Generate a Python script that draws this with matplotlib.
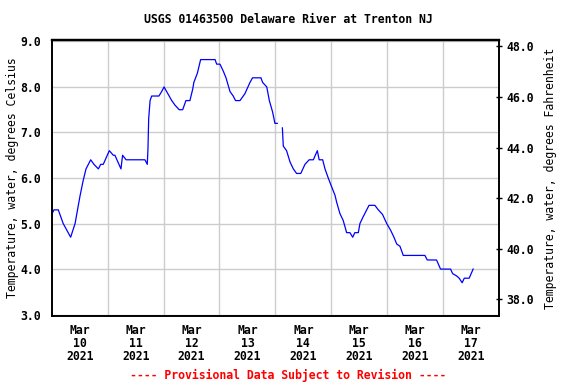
import numpy as np
import pandas as pd
import matplotlib
matplotlib.use("Agg")
import matplotlib.pyplot as plt

# hours since 2021-03-10 00:00 and water temperature (deg C)
hours = [0, 0.9, 2.8, 4.9, 8.1, 10.0, 12.1, 13.5, 14.7, 16.7, 18.1, 20.0, 21.0, 22.1,
         24.7, 26.4, 27.1, 29.7, 30.4, 31.9, 40.0, 41.0, 41.3, 41.6, 42.2, 42.9, 46.0,
         47.2, 48.2, 49.3, 51.5, 52.9, 54.7, 56.2, 57.6, 59.3, 60.5, 61.0, 62.5, 63.9,
         70.1, 70.8, 72.2, 73.6, 74.8, 76.5, 77.9, 78.9, 80.8, 82.9, 85.1, 86.2, 89.8,
         90.5, 92.3, 93.4, 94.8, 95.8, 96.8, 97.9, 99.0, 99.4, 100.8, 102.3, 103.7,
         105.1, 106.9, 108.7, 110.5, 112.3, 114.0, 114.8, 116.3, 117.3, 118.7, 120.2,
         121.6, 122.3, 123.7, 125.1, 126.6, 128.0, 129.2, 130.1, 131.6, 132.3, 133.7,
         135.2, 136.2, 138.7, 140.2, 142.0, 143.8, 145.5, 146.9, 148.1, 149.5, 150.9,
         160.2, 161.2, 165.2, 166.9, 171.2, 172.1, 173.8, 174.9, 176.2, 177.1, 179.2,
         180.9]
temp_c = [5.2, 5.3, 5.3, 5.0, 4.7, 5.0, 5.6, 5.95, 6.2, 6.4, 6.3, 6.2, 6.3, 6.3,
          6.6, 6.5, 6.5, 6.2, 6.5, 6.4, 6.4, 6.3, 6.65, 7.3, 7.7, 7.8, 7.8,
          7.9, 8.0, 7.9, 7.7, 7.6, 7.5, 7.5, 7.7, 7.7, 7.95, 8.1, 8.3, 8.6,
          8.6, 8.5, 8.5, 8.35, 8.2, 7.9, 7.8, 7.7, 7.7, 7.85, 8.1, 8.2, 8.2,
          8.1, 8.0, 7.7, 7.45, 7.2, 7.2, np.nan, 7.1, 6.7, 6.6, 6.35, 6.2,
          6.1, 6.1, 6.3, 6.4, 6.4, 6.6, 6.4, 6.4, 6.2, 6.0, 5.8,
          5.62, 5.47, 5.22, 5.07, 4.8, 4.8, 4.7, 4.8, 4.8, 5.0, 5.15,
          5.3, 5.4, 5.4, 5.3, 5.2, 5.0, 4.85, 4.7, 4.55, 4.5, 4.3,
          4.3, 4.2, 4.2, 4.0, 4.0, 3.9, 3.85, 3.8, 3.7, 3.8, 3.8,
          4.0]

start = pd.Timestamp("2021-03-10")
end = pd.Timestamp("2021-03-18")
times = start + pd.to_timedelta(hours, unit="h")

c_ticks = [3.0, 4.0, 5.0, 6.0, 7.0, 8.0, 9.0]
f_ticks = [38.0, 40.0, 42.0, 44.0, 46.0, 48.0]

title = "USGS 01463500 Delaware River at Trenton NJ"
left_label = "Temperature, water, degrees Celsius"
right_label = "Temperature, water, degrees Fahrenheit"
footer = "---- Provisional Data Subject to Revision ----"

plt.rcParams['font.family'] = 'DejaVu Sans Mono'
plt.rcParams['font.weight'] = 'bold'
plt.rcParams['font.size'] = 8.3

fig = plt.figure(figsize=(5.76, 3.84), dpi=100)
ax = fig.add_axes([0.0899, 0.1771, 0.7764, 0.7187])

ax.plot(times, temp_c, color='#0000ff', lw=0.9)

ax.set_xlim(start, end)
ax.set_ylim(2.97, 9.03)
ax.set_yticks(c_ticks)
ax.yaxis.set_major_formatter(matplotlib.ticker.FormatStrFormatter('%.1f'))
ax.tick_params(axis='y', length=0, pad=8)

days = pd.date_range("2021-03-10", "2021-03-17")
ax.set_xticks(days + pd.Timedelta(hours=12))
ax.set_xticklabels([d.strftime("Mar\n%d\n%Y") for d in days], linespacing=0.98)
ax.set_xticks(pd.date_range("2021-03-11", "2021-03-17"), minor=True)
ax.tick_params(axis='x', which='both', length=0, pad=6)

ax.grid(True, axis='y', color='#cccccc', lw=1)
ax.grid(True, axis='x', which='minor', color='#cccccc', lw=1)
ax.set_axisbelow(True)
for s in ax.spines.values():
    s.set_linewidth(1.2)
ax.spines['top'].set_linewidth(1.6)

ax.set_ylabel(left_label, labelpad=1)

ax2 = ax.twinx()
lo, hi = ax.get_ylim()
ax2.set_ylim(lo * 1.8 + 32, hi * 1.8 + 32)
ax2.set_yticks(f_ticks)
ax2.yaxis.set_major_formatter(matplotlib.ticker.FormatStrFormatter('%.1f'))
ax2.tick_params(axis='y', length=5, width=1, pad=3, direction='inout')
ax2.set_ylabel(right_label, labelpad=7)
for s in ax2.spines.values():
    s.set_linewidth(1.2)
ax2.spines['top'].set_linewidth(1.6)

fig.text(0.5, 0.948, title, ha='center', va='center')
fig.text(0.5, 0.021, footer, ha='center', va='center', color='red')

fig.savefig("out.png", dpi=100)
